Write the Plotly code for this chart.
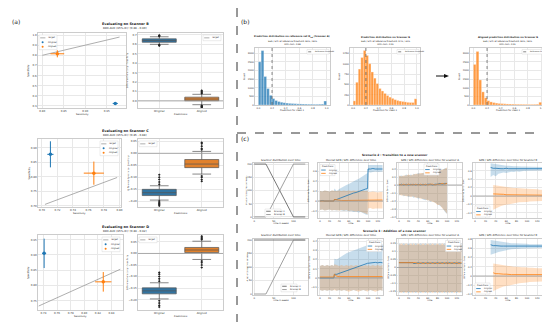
import plotly.graph_objects as go

W, H = 550, 322
FONT = "DejaVu Sans"
BLUE = "#1f77b4"
ORANGE = "#ff7f0e"
BOX_BLUE = "#3274a1"
BOX_ORANGE = "#e1812c"
GRID = "#e8e8e8"
SPINE = "#cccccc"
BAND_BLUE = "rgba(31,119,180,0.25)"
BAND_ORANGE = "rgba(255,127,14,0.25)"

# ---------------- (a) data ----------------
eval_scanners = ["Scanner B", "Scanner C", "Scanner D"]
auc_ci = ["[0.88 - 0.90]", "[0.85 - 0.88]", "[0.89 - 0.92]"]
pred_labels = ["Original", "Aligned"]

sens_B = [0.970, 0.835]; sens_err_B = [0.006, 0.016]
spec_B = [0.325, 0.815]; spec_err_B = [0.008, 0.035]
sens_C = [0.711, 0.767]; sens_err_C = [0.004, 0.013]
spec_C = [0.877, 0.812]; spec_err_C = [0.045, 0.040]
sens_D = [0.741, 0.828]; sens_err_D = [0.003, 0.012]
spec_D = [0.905, 0.812]; spec_err_D = [0.048, 0.032]
target_B = [0.80, 0.98]
target_C = [0.704, 0.797]
target_D = [0.733, 0.853]

box_B = dict(q1=[0.622, 0.002], med=[0.640, 0.020], q3=[0.658, 0.040],
             lo=[0.600, -0.040], hi=[0.680, 0.070])
out_B = [[0.585, 0.590, 0.595, 0.685, 0.690, 0.695],
         [-0.07, -0.065, -0.06, -0.055, -0.05, 0.08, 0.09, 0.10, 0.11]]
box_C = dict(q1=[-0.177, -0.060], med=[-0.165, -0.045], q3=[-0.151, -0.026],
             lo=[-0.196, -0.087], hi=[-0.136, 0.008])
out_C = [[-0.22, -0.215, -0.21, -0.205, -0.20, -0.13, -0.12, -0.11, -0.10, -0.09],
         [-0.117, -0.11, -0.10, -0.095, 0.015, 0.02, 0.03, 0.04, 0.045]]
box_D = dict(q1=[-0.175, 0.004], med=[-0.162, 0.015], q3=[-0.149, 0.026],
             lo=[-0.197, -0.026], hi=[-0.127, 0.053])
out_D = [[-0.232, -0.225, -0.215, -0.205, -0.12, -0.11, -0.10, -0.09, -0.083],
         [-0.061, -0.05, -0.04, -0.033, 0.06, 0.065, 0.07, 0.075]]
target_diff = 0.0

# ---------------- (b) data ----------------
bin_width = 0.04
bin_left = [0.00, 0.04, 0.08, 0.12, 0.16, 0.20, 0.24, 0.28, 0.32, 0.36, 0.40, 0.44, 0.48,
            0.52, 0.56, 0.60, 0.64, 0.68, 0.72, 0.76, 0.80, 0.84, 0.88, 0.92, 0.96]
hist_ref_A = [2500, 3150, 1650, 950, 560, 370, 260, 200, 160, 130, 110, 95, 85,
              75, 65, 60, 55, 50, 45, 45, 40, 40, 45, 50, 230]
hist_B = [100, 550, 870, 1150, 1320, 1200, 1000, 800, 650, 520, 400, 340, 280,
          230, 190, 160, 130, 110, 95, 85, 75, 65, 60, 60, 150]
hist_B_aligned = [2350, 3100, 1450, 760, 420, 250, 180, 140, 110, 90, 80, 70, 60,
                  55, 50, 45, 42, 40, 38, 36, 35, 35, 38, 45, 160]
ref_threshold = 0.2
hist_titles = ["Prediction distribution on reference set D<sub>ref</sub> (Scanner A)",
               "Prediction distribution on Scanner B",
               "Aligned prediction distribution on Scanner B"]
hist_sub = ["SEN / SPC at reference threshold: 82% / 82%<br>ROC-AUC: 0.88",
            "SEN / SPC at reference threshold: 97% / 32%<br>ROC-AUC: 0.91",
            "SEN / SPC at reference threshold: 82% / 82%<br>ROC-AUC: 0.91"]

# ---------------- (c) data ----------------
weeks = [0, 5, 10, 15, 20, 25, 29, 30, 35, 40, 45, 50, 55, 60, 65, 70, 75, 80, 85, 90, 95,
         99, 100, 105, 110, 115, 120, 125, 130]
N = None
# Scenario 2 : transition to a new scanner
s2_dist_weeks = [0, 30, 100, 130]
s2_scanA = [200, 200, 0, 0]
s2_scanB = [0, 0, 200, 200]
s2_all_orig_m = [0.00, 0.01, 0.00, 0.00, 0.01, 0.00, 0.00, 0.03, 0.03, 0.05, 0.07, 0.09, 0.11, 0.12,
                 0.14, 0.16, 0.17, 0.19, 0.21, 0.22, 0.24, 0.25, 0.64, 0.64, 0.65, 0.64, 0.64, 0.65, 0.64]
s2_all_orig_lo = [-0.18, -0.17, -0.19, -0.18, -0.17, -0.19, -0.18, -0.17, -0.19, -0.18, -0.19, -0.20,
                  -0.19, -0.21, -0.20, -0.22, -0.21, -0.23, -0.22, -0.25, -0.27, -0.28, 0.58, 0.57,
                  0.58, 0.59, 0.58, 0.58, 0.59]
s2_all_orig_hi = [0.20, 0.19, 0.21, 0.20, 0.19, 0.21, 0.20, 0.25, 0.20, 0.24, 0.27, 0.29, 0.32, 0.34,
                  0.37, 0.39, 0.42, 0.44, 0.47, 0.50, 0.53, 0.56, 0.72, 0.72, 0.71, 0.72, 0.72, 0.71, 0.72]
s2_all_alig_m = [0.00, 0.00, 0.00, 0.00, 0.00, 0.00, 0.00, 0.03, 0.02, 0.01, 0.01, 0.01, 0.01, 0.01,
                 0.01, 0.01, 0.01, 0.01, 0.01, 0.01, 0.01, 0.01, 0.02, 0.02, 0.02, 0.02, 0.02, 0.02, 0.02]
s2_all_alig_lo = [-0.18, -0.17, -0.19, -0.18, -0.17, -0.19, -0.18, -0.17, -0.18, -0.19, -0.18, -0.19,
                  -0.18, -0.20, -0.19, -0.20, -0.21, -0.20, -0.22, -0.23, -0.25, -0.27, -0.15, -0.14,
                  -0.16, -0.15, -0.14, -0.15, -0.15]
s2_all_alig_hi = [0.20, 0.19, 0.21, 0.20, 0.19, 0.21, 0.20, 0.21, 0.20, 0.21, 0.20, 0.21, 0.20, 0.21,
                  0.20, 0.21, 0.20, 0.21, 0.20, 0.21, 0.20, 0.21, 0.18, 0.18, 0.19, 0.18, 0.17, 0.18, 0.18]
s2_A_orig_m = [0.00, 0.01, 0.00, 0.01, 0.00, 0.01, 0.00, 0.01, 0.00, 0.01, 0.00, 0.01, 0.00, 0.01,
               0.01, 0.00, 0.01, 0.01, 0.02, 0.01, 0.02, 0.02, 0.02, N, N, N, N, N, N]
s2_A_orig_lo = [-0.13, -0.12, -0.14, -0.13, -0.15, -0.14, -0.15, -0.16, -0.15, -0.17, -0.16, -0.18,
                -0.19, -0.18, -0.21, -0.20, -0.23, -0.24, -0.26, -0.28, -0.33, -0.36, -0.35, N, N, N, N, N, N]
s2_A_orig_hi = [0.11, 0.12, 0.11, 0.13, 0.12, 0.13, 0.12, 0.14, 0.13, 0.15, 0.14, 0.15, 0.16, 0.15,
                0.17, 0.16, 0.18, 0.17, 0.19, 0.18, 0.21, 0.21, 0.20, N, N, N, N, N, N]
s2_A_alig_m = [0.01, 0.00, 0.01, 0.00, 0.01, 0.00, 0.01, 0.00, 0.01, 0.00, 0.01, 0.00, 0.01, 0.00,
               0.01, 0.01, 0.00, 0.01, 0.01, 0.02, 0.01, 0.02, 0.02, N, N, N, N, N, N]
s2_A_alig_lo = [-0.12, -0.13, -0.13, -0.14, -0.14, -0.15, -0.14, -0.15, -0.16, -0.16, -0.17, -0.17,
                -0.18, -0.19, -0.20, -0.21, -0.22, -0.25, -0.25, -0.29, -0.32, -0.35, -0.36, N, N, N, N, N, N]
s2_A_alig_hi = [0.12, 0.11, 0.12, 0.12, 0.13, 0.12, 0.13, 0.13, 0.14, 0.14, 0.15, 0.15, 0.15, 0.16,
                0.16, 0.17, 0.17, 0.18, 0.18, 0.19, 0.20, 0.22, 0.21, N, N, N, N, N, N]
s2_B_orig_m = [N, N, N, N, N, N, N, 0.68, 0.66, 0.66, 0.65, 0.65, 0.65, 0.66, 0.65, 0.65, 0.64,
               0.65, 0.65, 0.65, 0.65, 0.65, 0.65, 0.65, 0.65, 0.65, 0.65, 0.65, 0.65]
s2_B_orig_lo = [N, N, N, N, N, N, N, 0.45, 0.50, 0.47, 0.53, 0.54, 0.56, 0.55, 0.57, 0.58, 0.57,
                0.59, 0.58, 0.59, 0.60, 0.59, 0.60, 0.60, 0.61, 0.60, 0.61, 0.61, 0.61]
s2_B_orig_hi = [N, N, N, N, N, N, N, 0.78, 0.77, 0.75, 0.74, 0.73, 0.73, 0.72, 0.72, 0.71, 0.71,
                0.71, 0.70, 0.70, 0.70, 0.70, 0.70, 0.70, 0.69, 0.69, 0.69, 0.69, 0.69]
s2_B_alig_m = [N, N, N, N, N, N, N, N, 0.05, 0.05, 0.04, 0.04, 0.04, 0.03, 0.03, 0.03, 0.03, 0.03,
               0.02, 0.02, 0.02, 0.02, 0.02, 0.02, 0.02, 0.02, 0.02, 0.02, 0.02]
s2_B_alig_lo = [N, N, N, N, N, N, N, N, -0.33, -0.29, -0.27, -0.24, -0.22, -0.21, -0.19, -0.18,
                -0.17, -0.16, -0.15, -0.15, -0.14, -0.14, -0.14, -0.13, -0.13, -0.13, -0.12, -0.12, -0.12]
s2_B_alig_hi = [N, N, N, N, N, N, N, N, 0.26, 0.25, 0.24, 0.23, 0.22, 0.21, 0.20, 0.20, 0.19, 0.19,
                0.18, 0.18, 0.17, 0.17, 0.17, 0.17, 0.16, 0.16, 0.16, 0.15, 0.15]

# Scenario 3 : addition of a new scanner
s3_dist_weeks = [0, 30, 100, 130]
s3_scanA = [200, 200, 200, 200]
s3_scanB = [0, 0, 200, 200]
s3_all_orig_m = [0.00, 0.00, 0.00, 0.00, 0.00, 0.00, 0.00, 0.04, 0.04, 0.05, 0.06, 0.07, 0.08, 0.09,
                 0.10, 0.11, 0.12, 0.13, 0.14, 0.15, 0.155, 0.16, 0.16, 0.165, 0.165, 0.17, 0.165,
                 0.17, 0.165]
s3_all_orig_lo = [-0.13, -0.14, -0.13, -0.14, -0.13, -0.14, -0.13, -0.12, -0.14, -0.13, -0.14, -0.13,
                  -0.14, -0.13, -0.14, -0.13, -0.14, -0.13, -0.14, -0.13, -0.14, -0.13, -0.14, -0.13,
                  -0.14, -0.13, -0.14, -0.13, -0.14]
s3_all_orig_hi = [0.13, 0.14, 0.13, 0.14, 0.13, 0.14, 0.13, 0.21, 0.20, 0.22, 0.24, 0.25, 0.27, 0.28,
                  0.29, 0.30, 0.31, 0.32, 0.33, 0.34, 0.35, 0.35, 0.36, 0.36, 0.37, 0.36, 0.37, 0.36, 0.37]
s3_all_alig_m = [0.01, 0.01, 0.01, 0.01, 0.01, 0.01, 0.01, 0.04, 0.02, 0.015, 0.015, 0.015, 0.015,
                 0.015, 0.015, 0.015, 0.015, 0.015, 0.015, 0.015, 0.015, 0.015, 0.015, 0.015, 0.015,
                 0.015, 0.015, 0.015, 0.015]
s3_all_alig_lo = [-0.13, -0.14, -0.13, -0.14, -0.13, -0.14, -0.13, -0.13, -0.14, -0.13, -0.14, -0.13,
                  -0.14, -0.15, -0.14, -0.13, -0.14, -0.15, -0.14, -0.13, -0.14, -0.15, -0.14, -0.13,
                  -0.14, -0.15, -0.14, -0.13, -0.14]
s3_all_alig_hi = [0.13, 0.14, 0.13, 0.14, 0.13, 0.14, 0.13, 0.15, 0.14, 0.13, 0.14, 0.13, 0.14, 0.13,
                  0.14, 0.13, 0.14, 0.13, 0.14, 0.13, 0.14, 0.13, 0.14, 0.13, 0.14, 0.13, 0.14, 0.13, 0.14]
s3_A_orig_m = [0.03, 0.03, 0.03, 0.03, 0.03, 0.03, 0.03, 0.025, 0.025, 0.03, 0.025, 0.03, 0.025, 0.03,
               0.025, 0.03, 0.025, 0.03, 0.025, 0.03, 0.025, 0.03, 0.025, 0.03, 0.025, 0.03, 0.025,
               0.03, 0.025]
s3_A_orig_lo = [-0.16, -0.15, -0.16, -0.15, -0.16, -0.15, -0.16, -0.15, -0.16, -0.15, -0.16, -0.15,
                -0.16, -0.15, -0.16, -0.15, -0.16, -0.15, -0.16, -0.15, -0.16, -0.15, -0.16, -0.15,
                -0.16, -0.15, -0.16, -0.15, -0.16]
s3_A_orig_hi = [0.15, 0.14, 0.15, 0.14, 0.15, 0.14, 0.15, 0.14, 0.15, 0.14, 0.15, 0.14, 0.15, 0.14,
                0.15, 0.14, 0.15, 0.14, 0.15, 0.14, 0.15, 0.14, 0.15, 0.14, 0.15, 0.14, 0.15, 0.14, 0.15]
s3_A_alig_m = [0.03, 0.03, 0.03, 0.03, 0.03, 0.03, 0.03, 0.03, 0.03, 0.025, 0.03, 0.025, 0.03, 0.025,
               0.03, 0.025, 0.03, 0.025, 0.03, 0.025, 0.03, 0.025, 0.03, 0.025, 0.03, 0.025, 0.03,
               0.025, 0.03]
s3_A_alig_lo = [-0.15, -0.16, -0.15, -0.16, -0.15, -0.16, -0.15, -0.16, -0.15, -0.16, -0.15, -0.16,
                -0.15, -0.16, -0.15, -0.16, -0.15, -0.16, -0.15, -0.16, -0.15, -0.16, -0.15, -0.16,
                -0.15, -0.16, -0.15, -0.16, -0.15]
s3_A_alig_hi = [0.14, 0.15, 0.14, 0.15, 0.14, 0.15, 0.14, 0.15, 0.14, 0.15, 0.14, 0.15, 0.14, 0.15,
                0.14, 0.15, 0.14, 0.15, 0.14, 0.15, 0.14, 0.15, 0.14, 0.15, 0.14, 0.15, 0.14, 0.15, 0.14]
s3_B_orig_m = [N, N, N, N, N, N, N, 0.68, 0.66, 0.66, 0.65, 0.65, 0.65, 0.65, 0.65, 0.65, 0.65,
               0.65, 0.65, 0.65, 0.65, 0.65, 0.65, 0.65, 0.65, 0.65, 0.65, 0.65, 0.65]
s3_B_orig_lo = [N, N, N, N, N, N, N, 0.46, 0.48, 0.50, 0.52, 0.54, 0.55, 0.56, 0.57, 0.58, 0.58,
                0.59, 0.59, 0.60, 0.60, 0.60, 0.60, 0.61, 0.61, 0.61, 0.61, 0.61, 0.61]
s3_B_orig_hi = [N, N, N, N, N, N, N, 0.78, 0.77, 0.76, 0.75, 0.74, 0.73, 0.72, 0.72, 0.71, 0.71,
                0.71, 0.70, 0.70, 0.70, 0.70, 0.70, 0.69, 0.69, 0.69, 0.69, 0.69, 0.69]
s3_B_alig_m = [N, N, N, N, N, N, N, N, 0.07, 0.05, 0.05, 0.04, 0.04, 0.04, 0.03, 0.03, 0.03, 0.03,
               0.03, 0.03, 0.03, 0.03, 0.03, 0.03, 0.03, 0.03, 0.03, 0.03, 0.03]
s3_B_alig_lo = [N, N, N, N, N, N, N, N, -0.33, -0.30, -0.27, -0.25, -0.23, -0.21, -0.20, -0.19,
                -0.18, -0.17, -0.16, -0.15, -0.15, -0.14, -0.14, -0.13, -0.13, -0.13, -0.12, -0.12, -0.12]
s3_B_alig_hi = [N, N, N, N, N, N, N, N, 0.27, 0.26, 0.25, 0.24, 0.23, 0.22, 0.21, 0.21, 0.20, 0.20,
                0.19, 0.19, 0.19, 0.18, 0.18, 0.18, 0.18, 0.17, 0.17, 0.17, 0.17]

# ======================================================================
fig = go.Figure()
layout = dict(width=W, height=H, margin=dict(l=0, r=0, t=0, b=0),
              paper_bgcolor="white", plot_bgcolor="white", showlegend=False,
              font=dict(family=FONT, size=4, color="#222"))
annotations, shapes = [], []
naxes = [0]


def new_axes(box, xr, yr, xtv=None, ytv=None, xfmt=None, yfmt=None, xtt=None, fs=3.0):
    x0, y0, x1, y1 = box
    naxes[0] += 1
    s = "" if naxes[0] == 1 else str(naxes[0])
    common = dict(showgrid=True, gridcolor=GRID, gridwidth=0.5, zeroline=False, showline=True,
                  linecolor=SPINE, linewidth=0.6, mirror=True, ticks="",
                  tickfont=dict(size=fs, color="#333"), automargin=False)
    xa = dict(common, domain=[x0 / W, x1 / W], range=xr, anchor="y" + s)
    ya = dict(common, domain=[1 - y1 / H, 1 - y0 / H], range=yr, anchor="x" + s)
    if xtv is not None:
        xa["tickvals"] = xtv
        if xtt is not None:
            xa["ticktext"] = xtt
    if ytv is not None:
        ya["tickvals"] = ytv
    if xfmt:
        xa["tickformat"] = xfmt
    if yfmt:
        ya["tickformat"] = yfmt
    layout["xaxis" + s] = xa
    layout["yaxis" + s] = ya
    return "x" + s, "y" + s


def text(x, y, s, size=4, bold=False, xanchor="center", angle=0, color="#222"):
    if bold:
        s = "<b>" + s + "</b>"
    annotations.append(dict(x=x / W, y=1 - y / H, xref="paper", yref="paper", text=s, showarrow=False,
                            font=dict(size=size, color=color, family=FONT), xanchor=xanchor,
                            yanchor="middle", textangle=angle))


def pline(x0, y0, x1, y1, color="#000", width=0.8, dash="solid"):
    shapes.append(dict(type="line", xref="paper", yref="paper", x0=x0 / W, x1=x1 / W,
                       y0=1 - y0 / H, y1=1 - y1 / H, line=dict(color=color, width=width, dash=dash)))


def prect(x0, y0, x1, y1, fill="white", border="#d8d8d8"):
    shapes.append(dict(type="rect", xref="paper", yref="paper", x0=x0 / W, x1=x1 / W,
                       y0=1 - y1 / H, y1=1 - y0 / H, fillcolor=fill, line=dict(color=border, width=0.5)))


def legend(x, y, items, width, title=None, fs=2.4, row=4.0, sym=5.2):
    n = len(items) + (1 if title else 0)
    prect(x, y, x + width, y + n * row + 1.2)
    yy = y + row / 2 + 0.6
    if title:
        text(x + width / 2, yy, title, fs)
        yy += row
    for label, kind, color in items:
        if kind == "marker":
            shapes.append(dict(type="circle", xref="paper", yref="paper", x0=(x + 2.6) / W, x1=(x + 4.6) / W,
                               y0=1 - (yy + 1) / H, y1=1 - (yy - 1) / H, fillcolor=color, line=dict(width=0)))
        else:
            pline(x + 1.2, yy, x + 1.2 + sym, yy, color=color, width=0.8 if kind == "line" else 0.7,
                  dash="solid" if kind == "line" else "dot")
        text(x + sym + 2.2, yy, label, fs, xanchor="left")
        yy += row


def hline_axis(xa, ya, yval, color="#999", width=0.8):
    shapes.append(dict(type="line", xref=xa + " domain", yref=ya, x0=0, x1=1, y0=yval, y1=yval,
                       line=dict(color=color, width=width)))


# ============================ (a) ============================
text(8, 13, "(a)", 6.0)
rows_a = [
    dict(sc=(30, 25, 118, 100), bx=(130, 25, 215, 100), ty=15.5,
         sens=sens_B, se=sens_err_B, spec=spec_B, spe=spec_err_B, tgt=target_B,
         xr=[0.79, 0.995], yr=[0.28, 1.02], xtv=[0.80, 0.85, 0.90, 0.95],
         ytv=[0.3, 0.4, 0.5, 0.6, 0.7, 0.8, 0.9, 1.0], yfmt=".1f",
         box=box_B, out=out_B, byr=[-0.075, 0.72], bytv=[0.0, 0.1, 0.2, 0.3, 0.4, 0.5, 0.6, 0.7],
         byfmt=".1f", leg=(31, 27), bleg=(195, 27)),
    dict(sc=(30, 131, 113, 199), bx=(130, 131, 215, 199), ty=123,
         sens=sens_C, se=sens_err_C, spec=spec_C, spe=spec_err_C, tgt=target_C,
         xr=[0.695, 0.802], yr=[0.695, 0.93], xtv=[0.70, 0.72, 0.74, 0.76, 0.78, 0.80],
         ytv=[0.70, 0.75, 0.80, 0.85, 0.90], yfmt=".2f",
         box=box_C, out=out_C, byr=[-0.225, 0.06], bytv=[-0.20, -0.15, -0.10, -0.05, 0.00, 0.05],
         byfmt=".2f", leg=(92, 133), bleg=(131, 133)),
    dict(sc=(30, 227, 115, 302), bx=(130, 227, 215, 302), ty=219,
         sens=sens_D, se=sens_err_D, spec=spec_D, spe=spec_err_D, tgt=target_D,
         xr=[0.732, 0.857], yr=[0.72, 0.965], xtv=[0.74, 0.76, 0.78, 0.80, 0.82, 0.84],
         ytv=[0.75, 0.80, 0.85, 0.90, 0.95], yfmt=".2f",
         box=box_D, out=out_D, byr=[-0.245, 0.08], bytv=[-0.20, -0.15, -0.10, -0.05, 0.00, 0.05],
         byfmt=".2f", leg=(94, 229), bleg=(131, 229)),
]
for i, r in enumerate(rows_a):
    text(117, r["ty"], "Evaluating on " + eval_scanners[i], 3.4, bold=True)
    text(117, r["ty"] + 4.0, "ROC-AUC (95%-IC): " + auc_ci[i], 2.7)
    xa, ya = new_axes(r["sc"], r["xr"], r["yr"], xtv=r["xtv"], ytv=r["ytv"], xfmt=".2f", yfmt=r["yfmt"],
                      fs=2.7)
    fig.add_trace(go.Scatter(x=r["tgt"], y=r["tgt"], mode="lines", line=dict(color="#999", width=0.8),
                             xaxis=xa, yaxis=ya))
    cols = [BLUE, ORANGE]
    for k in range(2):
        fig.add_trace(go.Scatter(x=[r["sens"][k]], y=[r["spec"][k]], mode="markers",
                                 marker=dict(color=cols[k], size=3.5),
                                 error_x=dict(type="data", array=[r["se"][k]], color=cols[k], thickness=1, width=0),
                                 error_y=dict(type="data", array=[r["spe"][k]], color=cols[k], thickness=1, width=0),
                                 xaxis=xa, yaxis=ya))
    x0, y0, x1, y1 = r["sc"]
    text((x0 + x1) / 2, y1 + 6.3, "Sensitivity", 2.4)
    text(x0 - 9.5, (y0 + y1) / 2, "Specificity", 2.4, angle=-90)
    lx, ly = r["leg"]
    legend(lx, ly, [("Target", "line", "#999"), ("Original", "marker", BLUE), ("Aligned", "marker", ORANGE)],
           18, fs=2.2, row=4.5)

    xb, yb = new_axes(r["bx"], [-0.5, 1.5], r["byr"], xtv=[0, 1], xtt=pred_labels, ytv=r["bytv"],
                      yfmt=r["byfmt"], fs=2.7)
    bc = [BOX_BLUE, BOX_ORANGE]
    b = r["box"]
    for k in range(2):
        fig.add_trace(go.Box(x=[k], q1=[b["q1"][k]], median=[b["med"][k]], q3=[b["q3"][k]],
                             lowerfence=[b["lo"][k]], upperfence=[b["hi"][k]], width=0.8,
                             fillcolor=bc[k], line=dict(color="#555", width=0.7), whiskerwidth=0.55,
                             boxpoints=False, xaxis=xb, yaxis=yb))
        fig.add_trace(go.Scatter(x=[k] * len(r["out"][k]), y=r["out"][k], mode="markers",
                                 marker=dict(color="#222", size=2, symbol="diamond"), xaxis=xb, yaxis=yb))
    hline_axis(xb, yb, target_diff, color="#999", width=0.8)
    x0, y0, x1, y1 = r["bx"]
    text((x0 + x1) / 2, y1 + 6.3, "Predictions", 2.4)
    text(x0 - 10.5, (y0 + y1) / 2, "Difference Sensitivity - Specificity", 2.1, angle=-90)
    bx_, by_ = r["bleg"]
    legend(bx_, by_, [("Target", "line", "#999")], 18, fs=2.2, row=4.5)

# ============================ dividers ============================
pline(229, 0, 229, 322, color="#333", width=1, dash="dash")
pline(229, 125, 550, 125, color="#333", width=1, dash="dash")

# ============================ (b) ============================
text(237, 13, "(b)", 6.0)
hist_boxes = [(247, 40, 322, 97), (342, 40, 412, 97), (462, 40, 537, 97)]
hist_data = [hist_ref_A, hist_B, hist_B_aligned]
hist_cols = ["rgba(31,119,180,0.78)", "rgba(255,127,14,0.78)", "rgba(255,127,14,0.78)"]
hist_yr = [[0, 3300], [0, 1380], [0, 3300]]
hist_ytv = [[0, 500, 1000, 1500, 2000, 2500, 3000], [0, 250, 500, 750, 1000, 1250],
            [0, 500, 1000, 1500, 2000, 2500, 3000]]
centers = [b + bin_width / 2 for b in bin_left]
for i in range(3):
    xa, ya = new_axes(hist_boxes[i], [-0.05, 1.05], hist_yr[i], xtv=[0, 0.2, 0.4, 0.6, 0.8, 1.0],
                      ytv=hist_ytv[i], xfmt=".1f", fs=2.4)
    fig.add_trace(go.Bar(x=centers, y=hist_data[i], width=bin_width, marker=dict(color=hist_cols[i],
                         line=dict(color="white", width=0.3)), xaxis=xa, yaxis=ya))
    shapes.append(dict(type="line", xref=xa, yref=ya + " domain", x0=ref_threshold, x1=ref_threshold,
                       y0=0, y1=1, line=dict(color="#555", width=0.7, dash="dot")))
    x0, y0, x1, y1 = hist_boxes[i]
    cx = (x0 + x1) / 2
    text(cx, 29.5, hist_titles[i], 2.4, bold=True)
    text(cx, 34.6, hist_sub[i], 2.2)
    text(cx, y1 + 5.5, "Prediction for class 1", 2.3)
    text(x0 - 10.5, (y0 + y1) / 2, "Count", 2.3, angle=-90)
    legend(x1 - 23, y0 + 1.5, [("Reference threshold", "dash", "#555")], 22, fs=1.9, row=3.4, sym=4.2)
# arrow between original and aligned histograms
pline(428, 68, 437, 68, color="#111", width=1)
shapes.append(dict(type="path", xref="paper", yref="paper",
                   path="M {:.5f},{:.5f} L {:.5f},{:.5f} L {:.5f},{:.5f} Z".format(
                       441 / W, 1 - 68 / H, 436 / W, 1 - 66 / H, 436 / W, 1 - 70 / H),
                   fillcolor="#111", line=dict(width=0)))

# ============================ (c) ============================
text(237, 131, "(c)", 6.0)


def band_trace(xa, ya, lo, hi, color):
    xs = [weeks[j] for j in range(len(weeks)) if lo[j] is not None]
    los = [v for v in lo if v is not None]
    his = [v for v in hi if v is not None]
    fig.add_trace(go.Scatter(x=xs + xs[::-1], y=his + los[::-1], fill="toself", fillcolor=color,
                             line=dict(width=0), mode="lines", hoverinfo="skip", xaxis=xa, yaxis=ya))


def mean_trace(xa, ya, m, color):
    xs = [weeks[j] for j in range(len(weeks)) if m[j] is not None]
    ms = [v for v in m if v is not None]
    fig.add_trace(go.Scatter(x=xs, y=ms, mode="lines", line=dict(color=color, width=0.8), xaxis=xa, yaxis=ya))


pred_items = [("Original", "line", BLUE), ("Aligned", "line", ORANGE)]
rows_c = [
    dict(top=155, bot=210, st=147, pt=152, title="Scenario 2 : Transition to a new scanner",
         dw=s2_dist_weeks, dA=s2_scanA, dB=s2_scanB, dyr=[-4, 204], dleg=(257, 201),
         panels=[
             (s2_all_orig_m, s2_all_orig_lo, s2_all_orig_hi, s2_all_alig_m, s2_all_alig_lo, s2_all_alig_hi,
              [-0.34, 0.76], [-0.2, 0.0, 0.2, 0.4, 0.6], "tl"),
             (s2_A_orig_m, s2_A_orig_lo, s2_A_orig_hi, s2_A_alig_m, s2_A_alig_lo, s2_A_alig_hi,
              [-0.412, 0.275], [-0.4, -0.3, -0.2, -0.1, 0.0, 0.1, 0.2], (416, 156)),
             (s2_B_orig_m, s2_B_orig_lo, s2_B_orig_hi, s2_B_alig_m, s2_B_alig_lo, s2_B_alig_hi,
              [-0.524, 0.786], [-0.4, -0.2, 0.0, 0.2, 0.4, 0.6], "bl")]),
    dict(top=231, bot=287, st=223, pt=227.5, title="Scenario 3 : Addition of a new scanner",
         dw=s3_dist_weeks, dA=s3_scanA, dB=s3_scanB, dyr=[-3.7, 203.7], dleg=(273, 276),
         panels=[
             (s3_all_orig_m, s3_all_orig_lo, s3_all_orig_hi, s3_all_alig_m, s3_all_alig_lo, s3_all_alig_hi,
              [-0.185, 0.424], [-0.1, 0.0, 0.1, 0.2, 0.3, 0.4], "tr"),
             (s3_A_orig_m, s3_A_orig_lo, s3_A_orig_hi, s3_A_alig_m, s3_A_alig_lo, s3_A_alig_hi,
              [-0.172, 0.178], [-0.15, -0.10, -0.05, 0.00, 0.05, 0.10, 0.15], "tr"),
             (s3_B_orig_m, s3_B_orig_lo, s3_B_orig_hi, s3_B_alig_m, s3_B_alig_lo, s3_B_alig_hi,
              [-0.413, 0.804], [-0.4, -0.2, 0.0, 0.2, 0.4, 0.6, 0.8], "bl")]),
]
panel_x = [(310, 375), (389, 454), (465, 535)]
panel_titles = ["Overall SEN / SPC difference over time", "SEN / SPC difference over time for scanner A",
                "SEN / SPC difference over time for Scanner B"]
for r in rows_c:
    top, bot = r["top"], r["bot"]
    text(387, r["st"], r["title"], 2.9, bold=True)
    xa, ya = new_axes((245, top, 300, bot), [-3, 137], r["dyr"], xtv=[0, 50, 100],
                      ytv=[0, 50, 100, 150, 200], fs=2.4)
    fig.add_trace(go.Scatter(x=r["dw"], y=r["dA"], mode="lines", line=dict(color="#555", width=0.8),
                             xaxis=xa, yaxis=ya))
    fig.add_trace(go.Scatter(x=r["dw"], y=r["dB"], mode="lines", line=dict(color="#888", width=0.8),
                             xaxis=xa, yaxis=ya))
    text(273, r["pt"], "Scanner distribution over time", 2.6)
    text(273, bot + 5, "Time in weeks", 2.2)
    text(238.5, (top + bot) / 2, "# patients scanned per week", 2.0, angle=-90)
    dlx, dly = r["dleg"]
    legend(dlx, dly, [("Scanner A", "line", "#555"), ("Scanner B", "line", "#888")], 16, fs=2.1, row=3.3,
           sym=4.5)
    for p, (x0, x1) in enumerate(panel_x):
        om, olo, ohi, am, alo, ahi, yr, ytv, lp = r["panels"][p]
        xa, ya = new_axes((x0, top, x1, bot), [-4, 131], yr, xtv=[0, 20, 40, 60, 80, 100, 120],
                          ytv=ytv, fs=2.4)
        band_trace(xa, ya, olo, ohi, BAND_BLUE)
        band_trace(xa, ya, alo, ahi, BAND_ORANGE)
        hline_axis(xa, ya, target_diff, color="#999", width=0.8)
        mean_trace(xa, ya, om, BLUE)
        mean_trace(xa, ya, am, ORANGE)
        text((x0 + x1) / 2, r["pt"], panel_titles[p], 2.6)
        text((x0 + x1) / 2, bot + 5, "Time", 2.2)
        text(x0 - 9.5, (top + bot) / 2, "Difference Sens - Spec", 2.0, angle=-90)
        lw = 15
        if lp == "tl":
            lx, ly = x0 + 2, top + 1.5
        elif lp == "tr":
            lx, ly = x1 - lw - 1.5, top + 1.5
        elif lp == "bl":
            lx, ly = x0 + 2, bot - 12
        else:
            lx, ly = lp
        legend(lx, ly, pred_items, lw, title="Predictions", fs=2.1, row=3.3, sym=4.5)

layout["annotations"] = annotations
layout["shapes"] = shapes
fig.update_layout(**layout)
fig.write_html("out.html")
